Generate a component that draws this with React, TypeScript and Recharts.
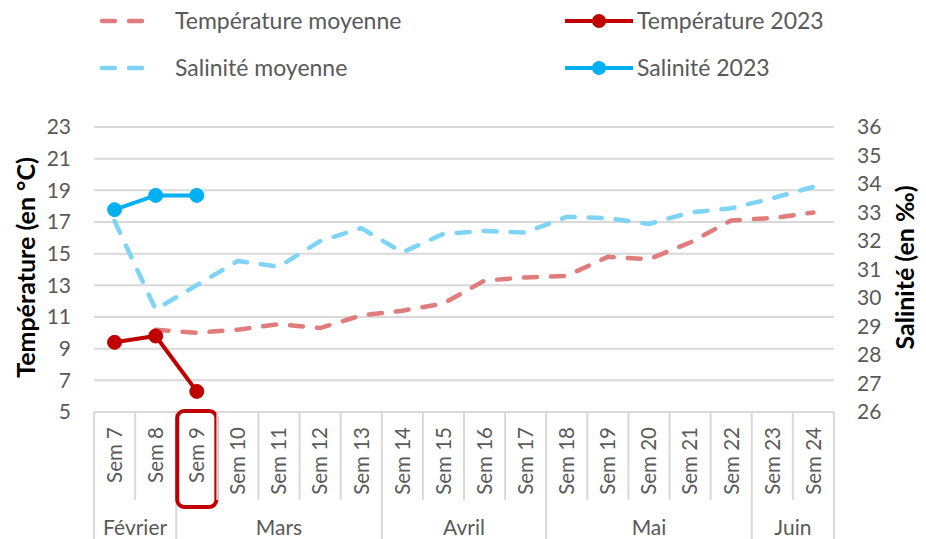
import React from 'react';
import { LineChart, Line, XAxis, YAxis, CartesianGrid } from 'recharts';

const weeks = ['Sem 7', 'Sem 8', 'Sem 9', 'Sem 10', 'Sem 11', 'Sem 12', 'Sem 13', 'Sem 14', 'Sem 15', 'Sem 16', 'Sem 17', 'Sem 18', 'Sem 19', 'Sem 20', 'Sem 21', 'Sem 22', 'Sem 23', 'Sem 24'];
const months = ['Février', 'Février', 'Mars', 'Mars', 'Mars', 'Mars', 'Mars', 'Avril', 'Avril', 'Avril', 'Avril', 'Mai', 'Mai', 'Mai', 'Mai', 'Mai', 'Juin', 'Juin'];
const tempMoyenne = [null, 10.2, 10.0, 10.2, 10.55, 10.3, 11.1, 11.4, 11.85, 13.3, 13.5, 13.6, 14.8, 14.65, 15.7, 17.1, 17.25, 17.6];
const temp2023 = [9.4, 9.8, 6.3, null, null, null, null, null, null, null, null, null, null, null, null, null, null, null];
const salMoyenne = [32.7, 29.6, 30.45, 31.3, 31.1, 32.0, 32.45, 31.6, 32.25, 32.35, 32.3, 32.85, 32.8, 32.6, 33.0, 33.15, 33.5, 33.9];
const sal2023 = [33.1, 33.6, 33.6, null, null, null, null, null, null, null, null, null, null, null, null, null, null, null];
const tempTicks = [5, 7, 9, 11, 13, 15, 17, 19, 21, 23];
const salTicks = [26, 27, 28, 29, 30, 31, 32, 33, 34, 35, 36];
const highlighted = ['Sem 9'];

const data = weeks.map((w, i) => ({
  week: w,
  month: months[i],
  tempMoy: tempMoyenne[i],
  temp23: temp2023[i],
  salMoy: salMoyenne[i],
  sal23: sal2023[i],
}));

const FONT = 'Lato, "Open Sans", sans-serif';
const GREY = '#595959';
const GRID = '#D9D9D9';
const W = 926;
const H = 539;
const M_LEFT = 94;
const M_RIGHT = 92;
const X_H = 127;
// line charts use a point scale, so pad half a band on each side to centre the weeks
const BW = (W - M_LEFT - M_RIGHT) / weeks.length;

const legendItems = [
  { name: 'Température moyenne', color: '#E07C7C', dashed: true, col: 0, row: 0 },
  { name: 'Température 2023', color: '#C00000', dashed: false, col: 1, row: 0 },
  { name: 'Salinité moyenne', color: '#7FD4F6', dashed: true, col: 0, row: 1 },
  { name: 'Salinité 2023', color: '#00B0F0', dashed: false, col: 1, row: 1 },
];

const WeekTick = (props: any) => {
  const { x, y, payload, index } = props;
  const left = x - BW / 2;
  const m = months[index];
  const firstOfMonth = index === 0 || months[index - 1] !== m;
  const last = index === weeks.length - 1;
  let monthLabel = null;
  if (firstOfMonth) {
    let n = 0;
    while (months[index + n] === m) n++;
    monthLabel = (
      <text x={left + (n * BW) / 2} y={y + 123} textAnchor="middle" fill={GREY} fontSize={21} fontFamily={FONT}>
        {m}
      </text>
    );
  }
  return (
    <g>
      <line x1={left} x2={left} y1={y} y2={firstOfMonth ? H : y + 88} stroke={GRID} strokeWidth={2} />
      {last && <line x1={left + BW} x2={left + BW} y1={y} y2={H} stroke={GRID} strokeWidth={2} />}
      <text
        x={x}
        y={y + 15}
        transform={`rotate(-90, ${x}, ${y + 15})`}
        textAnchor="end"
        dy="0.36em"
        fill={GREY}
        fontSize={20.5}
        fontFamily={FONT}
      >
        {payload.value}
      </text>
      {highlighted.includes(payload.value) && (
        <rect x={left + 1} y={y - 1} width={BW - 2} height={96} rx={7} fill="none" stroke="#C00000" strokeWidth={4} />
      )}
      {monthLabel}
    </g>
  );
};

const AxisTitle = (props: any) => {
  const { viewBox, value, dx } = props;
  const cx = viewBox.x + dx;
  const cy = viewBox.y + viewBox.height / 2 - 2;
  return (
    <text
      x={cx}
      y={cy}
      transform={`rotate(-90, ${cx}, ${cy})`}
      textAnchor="middle"
      dy="0.36em"
      fontSize={25}
      fontWeight={700}
      fontFamily={FONT}
      fill="#000"
    >
      {value}
    </text>
  );
};

const Legend = () => (
  <svg width={W} height={100} style={{ position: 'absolute', left: 0, top: 0 }}>
    {legendItems.map((it) => {
      const y = 21 + it.row * 47;
      const x0 = it.col === 0 ? 100 : 565;
      return (
        <g key={it.name}>
          {it.dashed ? (
            <line x1={x0 + 2} x2={x0 + 50} y1={y} y2={y} stroke={it.color} strokeWidth={4.5} strokeDasharray="13 14" strokeLinecap="round" />
          ) : (
            <g>
              <line x1={x0} x2={x0 + 68} y1={y} y2={y} stroke={it.color} strokeWidth={4} />
              <circle cx={x0 + 34} cy={y} r={7} fill={it.color} />
            </g>
          )}
          <text x={it.col === 0 ? 175 : 637} y={y} dy="0.36em" fontSize={23} fontFamily={FONT} fill={GREY}>
            {it.name}
          </text>
        </g>
      );
    })}
  </svg>
);

const App = () => {
  return (
    <div style={{ position: 'absolute', left: 0, top: 0, width: W, height: H, overflow: 'hidden', background: '#fff', fontFamily: FONT }}>
      <LineChart width={W} height={H} data={data} margin={{ top: 127, right: 0, bottom: 0, left: 0 }}>
        <CartesianGrid yAxisId="left" vertical={false} stroke={GRID} strokeWidth={2} />
        <XAxis
          dataKey="week"
          height={X_H}
          interval={0}
          padding={{ left: BW / 2, right: BW / 2 }}
          tickSize={0}
          tickMargin={0}
          tickLine={false}
          axisLine={{ stroke: GRID, strokeWidth: 2 }}
          tick={<WeekTick />}
        />
        <YAxis
          yAxisId="left"
          orientation="left"
          width={M_LEFT}
          domain={[5, 23]}
          ticks={tempTicks}
          interval={0}
          tickSize={0}
          tickMargin={23}
          tickLine={false}
          axisLine={false}
          tick={{ fill: GREY, fontSize: 21, fontFamily: FONT }}
          label={<AxisTitle value="Température (en °C)" dx={26} />}
        />
        <YAxis
          yAxisId="right"
          orientation="right"
          width={M_RIGHT}
          domain={[26, 36]}
          ticks={salTicks}
          interval={0}
          tickSize={0}
          tickMargin={23}
          tickLine={false}
          axisLine={false}
          tick={{ fill: GREY, fontSize: 21, fontFamily: FONT }}
          label={<AxisTitle value="Salinité (en ‰)" dx={71} />}
        />
        <Line yAxisId="left" dataKey="tempMoy" stroke="#E07C7C" strokeWidth={4.5} strokeDasharray="13 14" strokeLinecap="round" dot={false} activeDot={false} isAnimationActive={false} />
        <Line yAxisId="right" dataKey="salMoy" stroke="#7FD4F6" strokeWidth={4.5} strokeDasharray="13 14" strokeLinecap="round" dot={false} activeDot={false} isAnimationActive={false} />
        <Line yAxisId="left" dataKey="temp23" stroke="#C00000" strokeWidth={4} dot={{ r: 7, fill: '#C00000', stroke: '#C00000', strokeWidth: 1 }} activeDot={false} isAnimationActive={false} />
        <Line yAxisId="right" dataKey="sal23" stroke="#00B0F0" strokeWidth={4} dot={{ r: 7, fill: '#00B0F0', stroke: '#00B0F0', strokeWidth: 1 }} activeDot={false} isAnimationActive={false} />
      </LineChart>
      <Legend />
    </div>
  );
};

export default App;
